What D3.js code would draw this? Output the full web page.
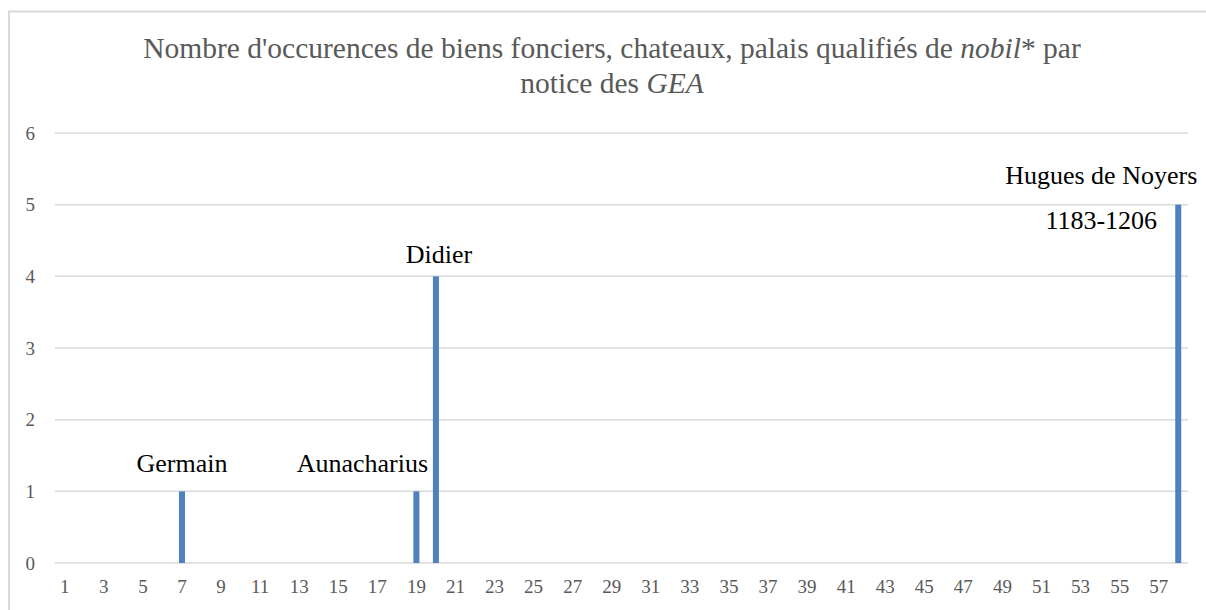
<!DOCTYPE html>
<html>
<head>
<meta charset="utf-8">
<script src="https://cdn.jsdelivr.net/npm/d3@7/dist/d3.min.js"></script>
<style>
  html, body { margin: 0; padding: 0; background: #fff; }
  svg { display: block; }
  svg text { font-family: "Liberation Serif", "Times New Roman", Tinos, serif; }
</style>
</head>
<body>
<svg id="chart" width="1206" height="610"></svg>
<script>
// Notice numbers 1..58 and occurrence counts per notice
const notices = d3.range(1, 59);
const occurrences = [
  0, 0, 0, 0, 0, 0, 1, 0, 0, 0,
  0, 0, 0, 0, 0, 0, 0, 0, 1, 4,
  0, 0, 0, 0, 0, 0, 0, 0, 0, 0,
  0, 0, 0, 0, 0, 0, 0, 0, 0, 0,
  0, 0, 0, 0, 0, 0, 0, 0, 0, 0,
  0, 0, 0, 0, 0, 0, 0, 5
];
const xTickLabels = d3.range(1, 58, 2);
const yTickValues = [0, 1, 2, 3, 4, 5, 6];
const labelledNotices = [7, 19, 20, 58];
const labelTexts = [["Germain"], ["Aunacharius"], ["Didier"], ["Hugues de Noyers", "1183-1206"]];

const svg = d3.select("#chart");
const plot = { left: 55, right: 1188, top: 133, bottom: 563 };
const serif = '"Liberation Serif", "Times New Roman", Tinos, serif';

// chart frame (left and top edges visible)
svg.append("rect")
  .attr("x", 9).attr("y", 11.5)
  .attr("width", 1400).attr("height", 800)
  .attr("fill", "none").attr("stroke", "#d9d9d9").attr("stroke-width", 2);

const x = d3.scaleBand().domain(notices).range([plot.left, plot.right]).padding(0);
const y = d3.scaleLinear().domain([0, 6]).range([plot.bottom, plot.top]);

// horizontal gridlines
svg.append("g").selectAll("line").data(yTickValues).join("line")
  .attr("x1", plot.left).attr("x2", plot.right)
  .attr("y1", d => y(d)).attr("y2", d => y(d))
  .attr("stroke", "#d9d9d9").attr("stroke-width", 1.5);

// y-axis labels
const yAxis = d3.axisLeft(y).tickValues(yTickValues).tickSize(0).tickPadding(0).tickFormat(d3.format("d"));
const gy = svg.append("g").attr("transform", "translate(35,0)").call(yAxis)
  .attr("font-family", null).attr("font-size", null);
gy.select(".domain").remove();
gy.selectAll("text")
  .style("font-family", serif)
  .style("font-size", "19px").attr("fill", "#595959");

// x-axis labels (every other notice)
const xAxis = d3.axisBottom(x).tickValues(xTickLabels).tickSize(0).tickPadding(0);
const gx = svg.append("g").attr("transform", `translate(0,${plot.bottom + 16})`).call(xAxis)
  .attr("font-family", null).attr("font-size", null);
gx.select(".domain").remove();
gx.selectAll("text")
  .style("font-family", serif)
  .style("font-size", "19px").attr("fill", "#595959");

// bars
const barW = 6;
svg.append("g").selectAll("rect")
  .data(notices.map((n, i) => ({ n, v: occurrences[i] })).filter(d => d.v > 0))
  .join("rect")
  .attr("x", d => x(d.n) + x.bandwidth() / 2 - barW / 2)
  .attr("y", d => y(d.v))
  .attr("width", barW)
  .attr("height", d => y(0) - y(d.v))
  .attr("fill", "#4f81bd");

// name labels, nudged away from neighbouring bars
const nudges = [
  { dx: 0, dy: -19, lh: 0 },
  { dx: -54, dy: -19, lh: 0 },
  { dx: 3, dy: -13, lh: 0 },
  { dx: -77, dy: -21, lh: 45 }
];
labelledNotices.forEach((n, i) => {
  const v = occurrences[notices.indexOf(n)];
  const cx = x(n) + x.bandwidth() / 2 + nudges[i].dx;
  const t = svg.append("text")
    .attr("x", cx).attr("y", y(v) + nudges[i].dy)
    .attr("text-anchor", "middle")
    .style("font-family", serif)
    .style("font-size", "26px").attr("fill", "#000");
  labelTexts[i].forEach((line, j) => {
    t.append("tspan").attr("x", cx).attr("dy", j === 0 ? 0 : nudges[i].lh).text(line);
  });
});

// title
const title = svg.append("text")
  .attr("text-anchor", "middle")
  .style("font-family", serif)
  .style("font-size", "29.5px").attr("fill", "#595959");
const l1 = title.append("tspan").attr("x", 612).attr("y", 58);
l1.append("tspan").text("Nombre d'occurences de biens fonciers, chateaux, palais qualifiés de ");
l1.append("tspan").style("font-style", "italic").text("nobil");
l1.append("tspan").text("* par");
const l2 = title.append("tspan").attr("x", 612).attr("y", 93);
l2.append("tspan").text("notice des ");
l2.append("tspan").style("font-style", "italic").text("GEA");
</script>
</body>
</html>
